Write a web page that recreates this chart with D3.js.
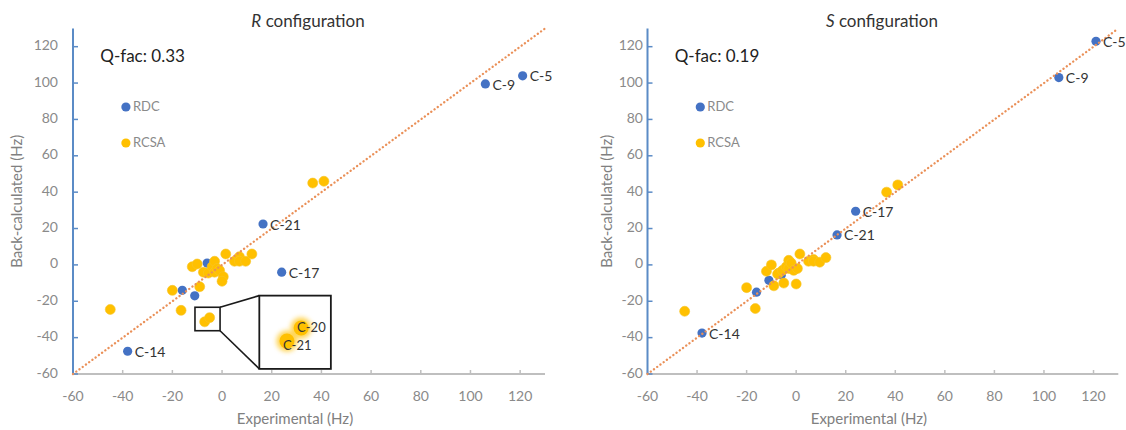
<!DOCTYPE html>
<html>
<head>
<meta charset="utf-8">
<script src="https://cdn.jsdelivr.net/npm/d3@7"></script>
<style>
  body { margin: 0; background: #fff; }
  text { font-family: Lato, "Open Sans", "DejaVu Sans", sans-serif; }
</style>
</head>
<body>
<svg id="chart" width="1126" height="430"></svg>
<script>
// ---- data ----
const tickValues = [-60, -40, -20, 0, 20, 40, 60, 80, 100, 120];

// RDC couplings: experimental vs back-calculated for each configuration
const rdcLabels = ["C-5", "C-9", "C-21", "C-17", "C-14", "", "", ""];
const rdcExp    = [121, 106, 16.5, 24, -38, -6, -16, -11];
const rdcBackR  = [104, 99.5, 22.5, -4, -47.5, 1, -14, -17];
const rdcBackS  = [123, 103, 16.5, 29.5, -37.5, -5.5, -15, -8.5];

// RCSA values
const rcsaLabels = ["", "", "", "", "", "", "C-21", "C-20", "", "", "", "", "", "", "", "", "", "", "", "", "", "", "", "", ""];
const rcsaExp    = [-45, -20, -16.5, -12, -10, -9, -7, -5, -7.5, -5.5, -4, -3, -3, -2, -1, 0.5, 0, 1.5, 5, 7, 7, 9.5, 12, 36.5, 41];
const rcsaBackR  = [-24.5, -14, -25, -1, 0.5, -12, -31.3, -29, -4, -4.5, -1, 2, -4, -2, -3, -6.5, -9, 6, 2, 4.5, 2, 2, 6, 45, 46];
const rcsaBackS  = [-25.5, -12.5, -24, -3.5, 0, -11.5, -4.5, -10, -5, -3, -1, 2.5, -2, 1, -3, -2, -10.5, 6, 2, 3, 2, 1.5, 4, 40, 44];

const configNames = ["R", "S"];
const qFactors = ["0.33", "0.19"];
const seriesNames = ["RDC", "RCSA"];

// ---- layout ----
const svg = d3.select("#chart");
const blue = "#4472C4", gold = "#FFC000";
const panels = [
  { x0: 73,    x1: 545,    tickLabelX: 58,  yTitleX: 18,  backRdc: rdcBackR, backRcsa: rcsaBackR, inset: true },
  { x0: 647.5, x1: 1118.3, tickLabelX: 643, yTitleX: 608, backRdc: rdcBackS, backRcsa: rcsaBackS, inset: false }
];

const defs = svg.append("defs");
defs.append("filter").attr("id", "glow").attr("x", "-100%").attr("y", "-100%").attr("width", "300%").attr("height", "300%")
  .append("feGaussianBlur").attr("stdDeviation", 2.5);

panels.forEach((p, pi) => {
  const x = d3.scaleLinear().domain([-60, 130]).range([p.x0, p.x1]);
  const y = d3.scaleLinear().domain([-60, 130]).range([374, 28.5]);
  const g = svg.append("g");

  // x axis
  g.append("line").attr("x1", x(-60)).attr("x2", x(130)).attr("y1", y(-60)).attr("y2", y(-60))
    .attr("stroke", "#bfbfbf").attr("stroke-width", 2);
  tickValues.forEach(t => {
    g.append("line").attr("x1", x(t)).attr("x2", x(t)).attr("y1", y(-60)).attr("y2", y(-60) - 4)
      .attr("stroke", "#bfbfbf").attr("stroke-width", 1.5);
    g.append("text").attr("x", x(t)).attr("y", 397).attr("text-anchor", "middle")
      .attr("dominant-baseline", "middle").attr("font-size", 14).attr("fill", "#8a8a8a").text(t);
  });

  // y axis
  g.append("line").attr("x1", x(-60)).attr("x2", x(-60)).attr("y1", y(-60)).attr("y2", y(130))
    .attr("stroke", "#5b8bc6").attr("stroke-width", 2);
  tickValues.forEach(t => {
    g.append("line").attr("x1", x(-60)).attr("x2", x(-60) + 5).attr("y1", y(t)).attr("y2", y(t))
      .attr("stroke", "#5b8bc6").attr("stroke-width", 1.5);
    g.append("text").attr("x", p.tickLabelX).attr("y", y(t)).attr("text-anchor", "end")
      .attr("dominant-baseline", "middle").attr("font-size", 14).attr("fill", "#8a8a8a").text(t);
  });

  // axis titles
  g.append("text").attr("x", (x(-60) + x(130)) / 2 - 14).attr("y", 420).attr("text-anchor", "middle")
    .attr("dominant-baseline", "middle").attr("font-size", 15).attr("fill", "#808080").text("Experimental (Hz)");
  g.append("text").attr("transform", `translate(${p.yTitleX},${y(35)}) rotate(-90)`).attr("text-anchor", "middle")
    .attr("dominant-baseline", "middle").attr("font-size", 15).attr("fill", "#808080").text("Back-calculated (Hz)");

  // panel title
  const title = g.append("text").attr("x", (x(-60) + x(130)) / 2 - 1).attr("y", 23).attr("text-anchor", "middle")
    .attr("dominant-baseline", "middle").attr("font-size", 17).attr("fill", "#333");
  title.append("tspan").attr("font-style", "italic").text(configNames[pi]);
  title.append("tspan").text(" configuration");

  // Q-factor
  g.append("text").attr("x", x(-49)).attr("y", 58).attr("dominant-baseline", "middle")
    .attr("font-size", 17).attr("fill", "#222").text("Q-fac: " + qFactors[pi]);

  // legend
  [blue, gold].forEach((c, i) => {
    const ly = 107 + i * 36;
    g.append("circle").attr("cx", x(-38.7)).attr("cy", ly).attr("r", 4.6).attr("fill", c);
    g.append("text").attr("x", x(-38.7) + 7).attr("y", ly + 1).attr("dominant-baseline", "middle")
      .attr("font-size", 13).attr("fill", "#8a8a8a").text(seriesNames[i]);
  });

  // points
  rdcExp.forEach((v, i) => {
    g.append("circle").attr("cx", x(v)).attr("cy", y(p.backRdc[i])).attr("r", 4.6).attr("fill", blue);
  });
  rcsaExp.forEach((v, i) => {
    g.append("circle").attr("cx", x(v)).attr("cy", y(p.backRcsa[i])).attr("r", 5)
      .attr("fill", gold).attr("stroke", "#f7c52a").attr("stroke-width", 0.6);
  });

  // y = x reference line
  g.append("line").attr("x1", x(-60)).attr("y1", y(-60)).attr("x2", x(130)).attr("y2", y(130))
    .attr("stroke", "#ea9058").attr("stroke-width", 2.3).attr("stroke-linecap", "round")
    .attr("stroke-dasharray", "0.1 3.9");

  // point labels
  rdcExp.forEach((v, i) => {
    if (!rdcLabels[i]) return;
    g.append("text").attr("x", x(v) + 7).attr("y", y(p.backRdc[i]) + 2).attr("dominant-baseline", "middle")
      .attr("font-size", 14).attr("fill", "#333").text(rdcLabels[i]);
  });

  // magnified inset around the C-20 / C-21 RCSA pair
  if (p.inset) {
    const small = { x: [-10.9, -0.8], y: [-36.2, -23.3] };
    const big = { x: [15, 43.8], y: [-57.2, -16.9] };
    const zx = d3.scaleLinear().domain(small.x).range([x(big.x[0]), x(big.x[1])]);
    const zy = d3.scaleLinear().domain(small.y).range([y(big.y[0]), y(big.y[1])]);
    const ink = "#1a1a1a";
    g.append("line").attr("x1", x(small.x[1])).attr("y1", y(small.y[1])).attr("x2", x(big.x[0])).attr("y2", y(big.y[1]))
      .attr("stroke", ink).attr("stroke-width", 1.6);
    g.append("line").attr("x1", x(small.x[1])).attr("y1", y(small.y[0])).attr("x2", x(big.x[0])).attr("y2", y(big.y[0]))
      .attr("stroke", ink).attr("stroke-width", 1.6);
    g.append("rect").attr("x", x(small.x[0])).attr("y", y(small.y[1]))
      .attr("width", x(small.x[1]) - x(small.x[0])).attr("height", y(small.y[0]) - y(small.y[1]))
      .attr("fill", "none").attr("stroke", ink).attr("stroke-width", 1.6);
    g.append("rect").attr("x", x(big.x[0])).attr("y", y(big.y[1]))
      .attr("width", x(big.x[1]) - x(big.x[0])).attr("height", y(big.y[0]) - y(big.y[1]))
      .attr("fill", "#fff").attr("stroke", ink).attr("stroke-width", 1.8);

    const zoomed = rcsaExp.map((v, i) => ({ v, b: p.backRcsa[i], label: rcsaLabels[i] }))
      .filter(d => d.label);
    zoomed.forEach(d => {
      g.append("circle").attr("cx", zx(d.v)).attr("cy", zy(d.b)).attr("r", 10.5)
        .attr("fill", "#ffc000").attr("opacity", 0.7).attr("filter", "url(#glow)");
      g.append("circle").attr("cx", zx(d.v)).attr("cy", zy(d.b)).attr("r", 7.5).attr("fill", gold);
    });
    // the two labels sit close together; nudge them apart vertically
    const labelShift = { "C-21": 6, "C-20": 1 };
    zoomed.forEach(d => {
      g.append("text").attr("x", zx(d.v) - 4).attr("y", zy(d.b) + labelShift[d.label]).attr("dominant-baseline", "middle")
        .attr("font-size", 13).attr("fill", "#333").text(d.label);
    });
  }
});
</script>
</body>
</html>
